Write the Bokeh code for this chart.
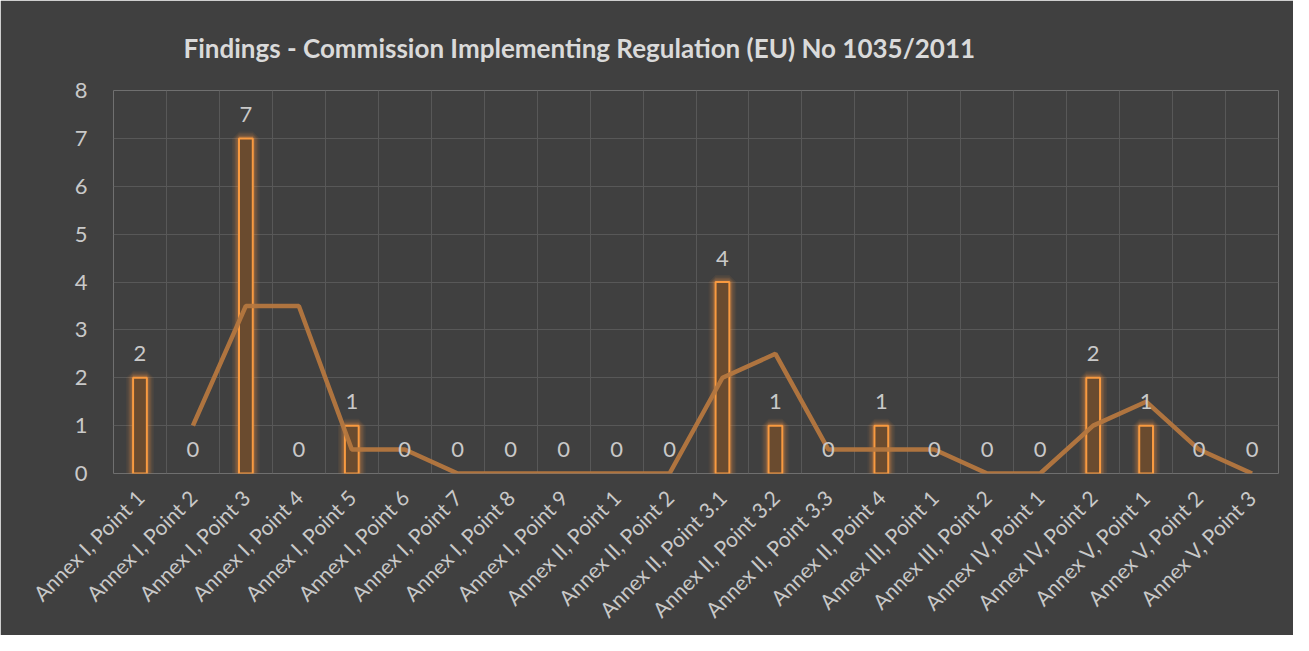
import math
from bokeh.plotting import figure
from bokeh.models import ColumnDataSource, FixedTicker, LabelSet, Title
from bokeh.core.properties import value
from bokeh.embed import file_html
from bokeh.resources import INLINE

categories = ["Annex I, Point 1", "Annex I, Point 2", "Annex I, Point 3", "Annex I, Point 4",
              "Annex I, Point 5", "Annex I, Point 6", "Annex I, Point 7", "Annex I, Point 8",
              "Annex I, Point 9", "Annex II, Point 1", "Annex II, Point 2", "Annex II, Point 3.1",
              "Annex II, Point 3.2", "Annex II, Point 3.3", "Annex II, Point 4", "Annex III, Point 1",
              "Annex III, Point 2", "Annex IV, Point 1", "Annex IV, Point 2", "Annex V, Point 1",
              "Annex V, Point 2", "Annex V, Point 3"]
findings = [2, 0, 7, 0, 1, 0, 0, 0, 0, 0, 0, 4, 1, 0, 1, 0, 0, 0, 2, 1, 0, 0]
trend = [float("nan"), 1, 3.5, 3.5, 0.5, 0.5, 0, 0, 0, 0, 0, 2, 2.5, 0.5, 0.5, 0.5, 0, 0, 1, 1.5, 0.5, 0]
y_ticks = [0, 1, 2, 3, 4, 5, 6, 7, 8]

BG = "#404040"
TXT = "#c9c9c9"
GRID = "#585858"
FONT = "Lato"

xs = [i + 0.5 for i in range(len(categories))]
lab_src = ColumnDataSource(dict(x=xs, top=findings, lab=[str(v) for v in findings]))
bar_src = ColumnDataSource(dict(x=[x for x, v in zip(xs, findings) if v > 0],
                                top=[v for v in findings if v > 0]))
tx = [x for x, t in zip(xs, trend) if not math.isnan(t)]
ty = [t for t in trend if not math.isnan(t)]

p = figure(width=1293, height=635, output_backend="svg", toolbar_location=None,
           x_range=(0, len(categories)), y_range=(0, 8),
           background_fill_color=BG, border_fill_color=BG, outline_line_color=None,
           min_border_left=113, min_border_right=15, min_border_top=90, min_border_bottom=162)

t = Title(text="Findings - Commission Implementing Regulation (EU) No 1035/2011",
          text_font=FONT, text_font_size="26px", text_font_style="bold", text_color="#dadada",
          align="left", offset=70, standoff=54)
p.add_layout(t, "above")

# glow layers
for lw, a in [(14, 0.06), (11, 0.08), (8, 0.12), (5, 0.2)]:
    p.vbar(x="x", top="top", bottom=0, width=0.26, source=bar_src, fill_alpha=0,
           line_color="#f7953f", line_alpha=a, line_width=lw)
p.vbar(x="x", top="top", bottom=0, width=0.26, source=bar_src, fill_color="#6a4b2f",
       line_color="#f99a40", line_width=2)

p.line(tx, ty, line_color="#b5773f", line_width=4.5, line_alpha=0.95)

labels = LabelSet(x="x", y="top", text="lab", source=lab_src, y_offset=24,
                  text_align="center", text_baseline="middle", text_color=TXT,
                  text_font=value(FONT), text_font_size=value("22px"))
p.add_layout(labels)

p.xaxis.ticker = FixedTicker(ticks=xs)
p.xaxis.major_label_overrides = {x: c for x, c in zip(xs, categories)}
p.xaxis.major_label_orientation = math.pi / 4
p.xaxis.major_label_text_font = FONT
p.xaxis.major_label_text_font_size = "21px"
p.xaxis.major_label_text_color = TXT
p.xaxis.major_label_standoff = 14
p.yaxis.ticker = FixedTicker(ticks=y_ticks)
p.yaxis.major_label_text_font = FONT
p.yaxis.major_label_text_font_size = "22px"
p.yaxis.major_label_text_color = TXT
p.yaxis.major_label_standoff = 20
for ax in (p.xaxis, p.yaxis):
    ax.axis_line_color = None
    ax.major_tick_line_color = None
    ax.minor_tick_line_color = None

p.xgrid.ticker = FixedTicker(ticks=list(range(len(categories) + 1)))
p.xgrid.grid_line_color = GRID
p.ygrid.grid_line_color = GRID
p.xgrid.grid_line_width = 1
p.ygrid.grid_line_width = 1

open("out.html", "w").write(file_html(p, INLINE))
